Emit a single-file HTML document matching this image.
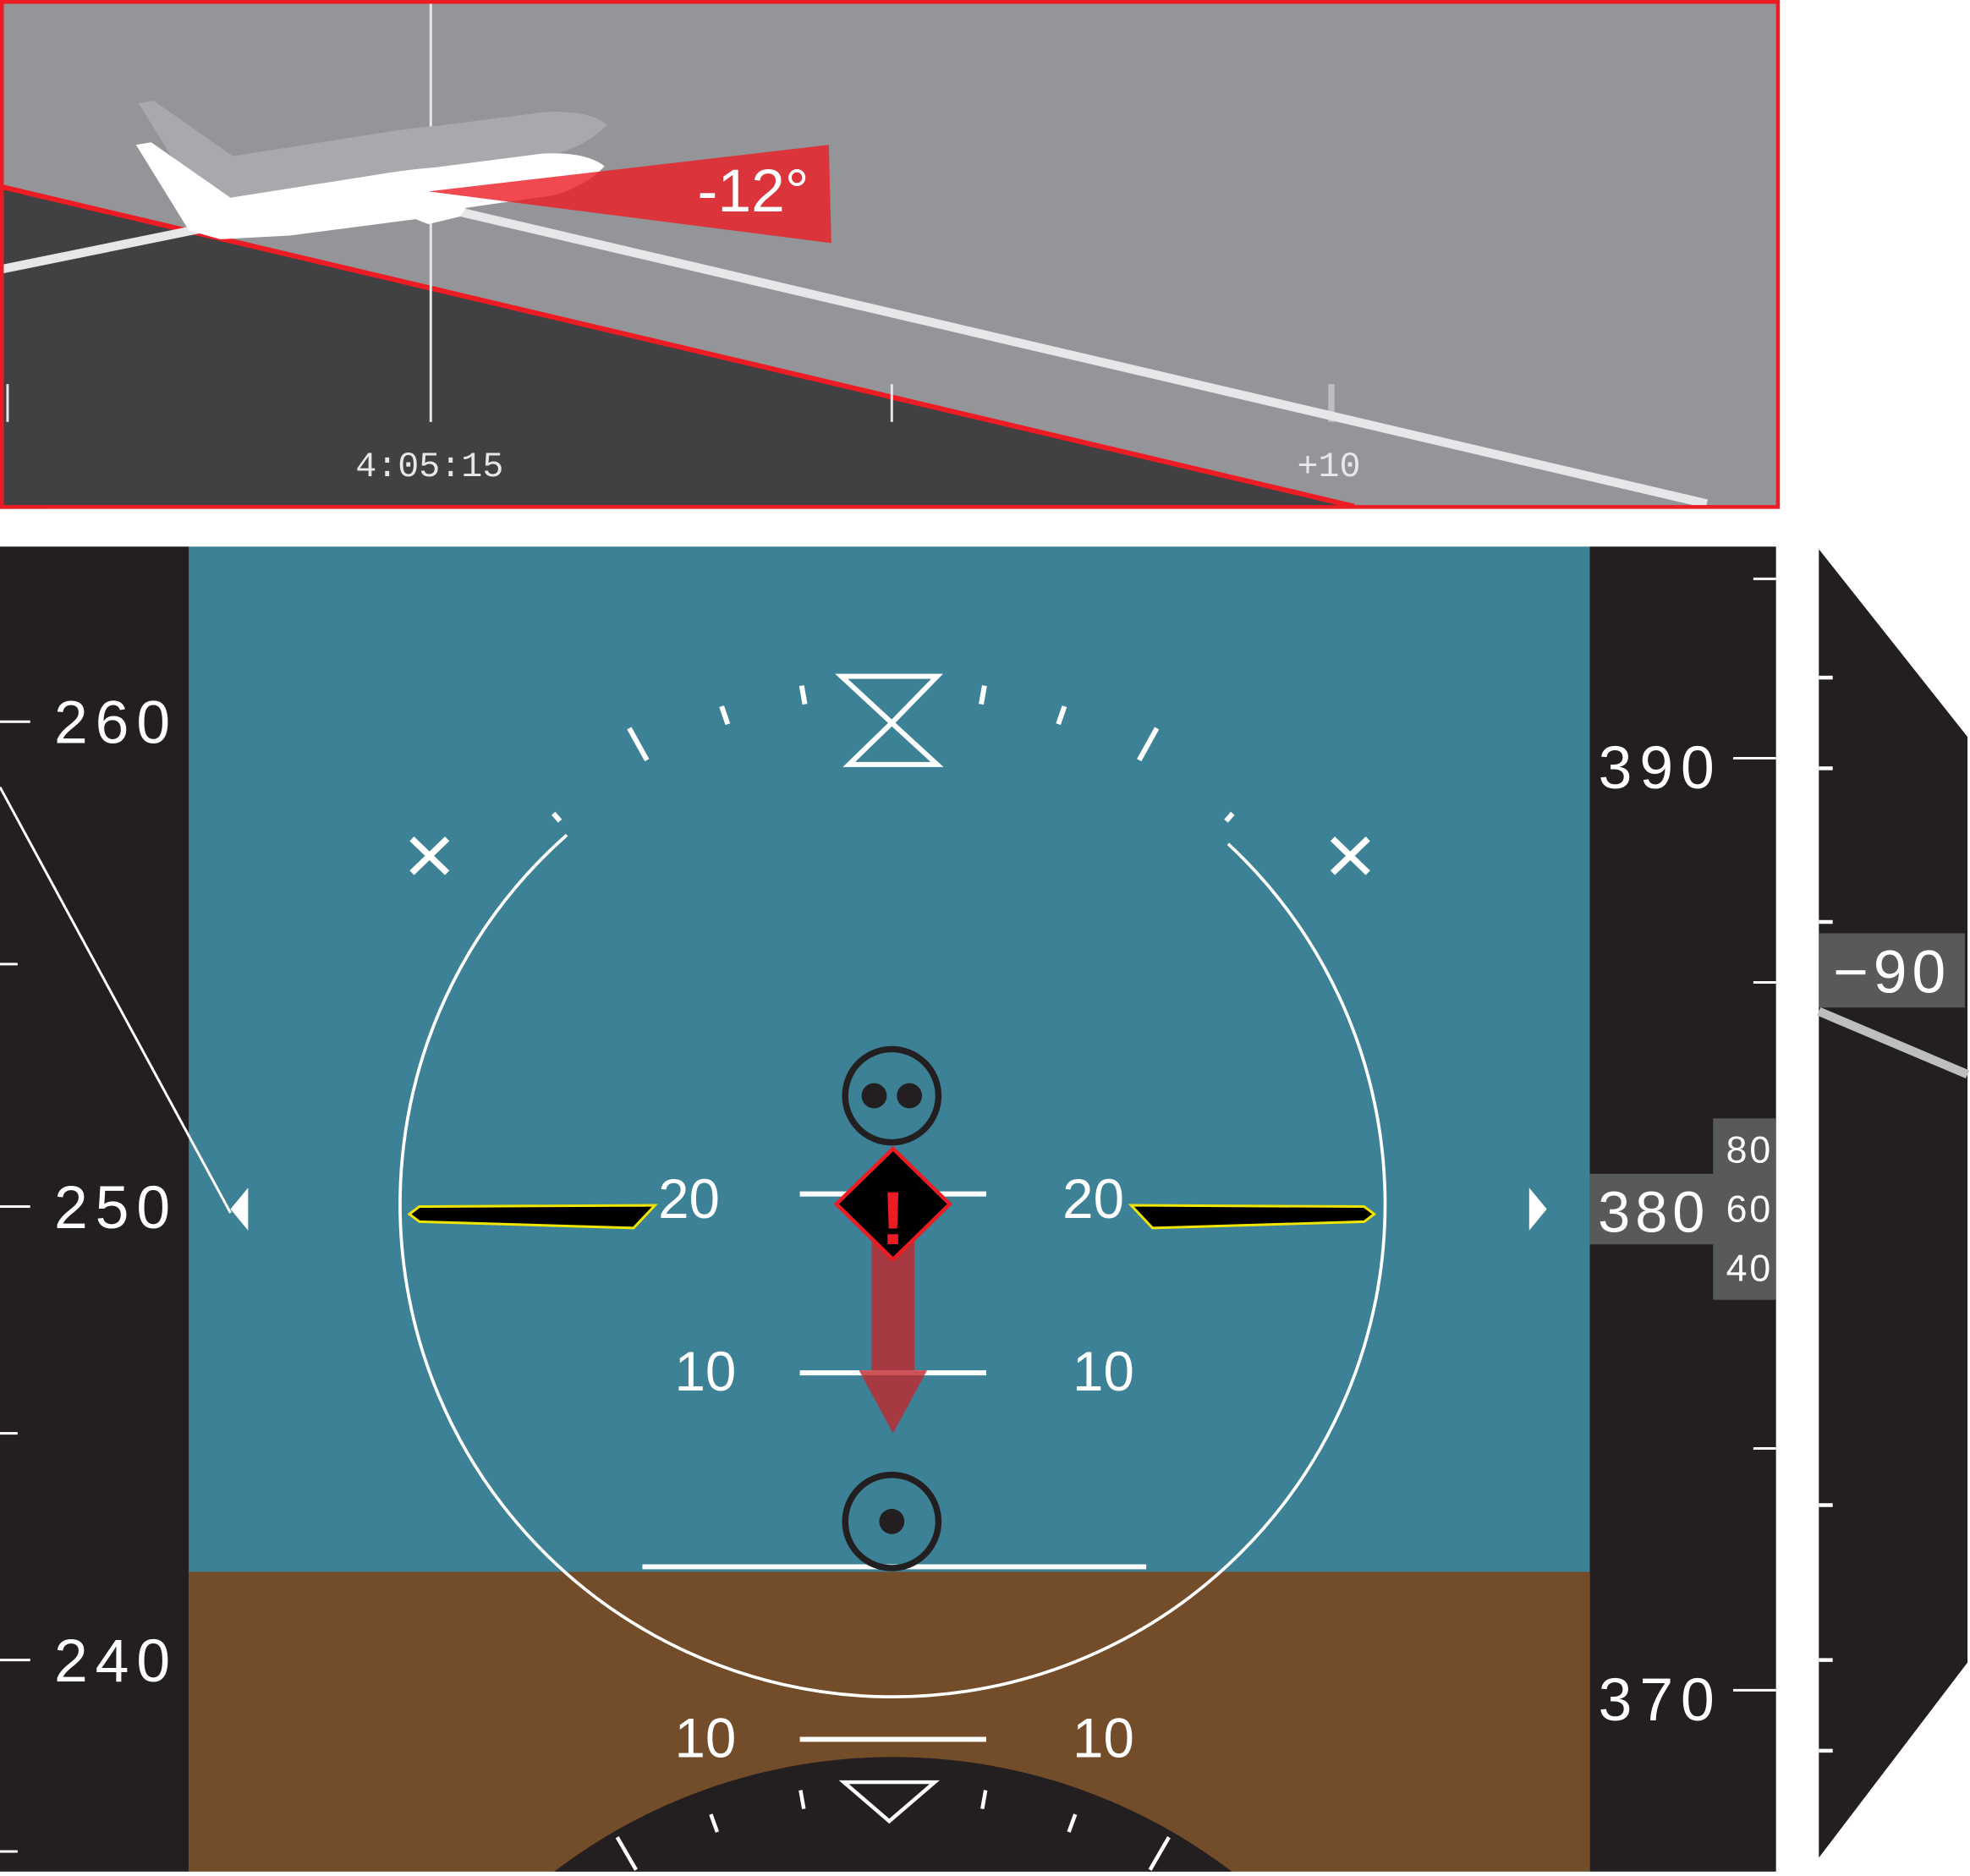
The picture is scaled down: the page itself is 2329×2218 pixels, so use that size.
<!DOCTYPE html>
<html><head><meta charset="utf-8"><style>
html,body{margin:0;padding:0;background:#fff;overflow:hidden;width:2329px;height:2218px;}
svg{display:block;}
text{font-family:"Liberation Sans",sans-serif;}
</style></head><body>
<svg id="pfd" xmlns="http://www.w3.org/2000/svg" width="2329" height="2218" viewBox="0 0 1564 1489.5" preserveAspectRatio="none">
<g>
  <rect x="0" y="0" width="1413" height="404" fill="#939598"/>
  <polygon points="0,148 1075,402 0,404" fill="#414042"/>
  <line x1="0" y1="148" x2="1075" y2="402" stroke="#ed1c24" stroke-width="4"/>
  <line x1="342" y1="0" x2="342" y2="335" stroke="#e6e7e8" stroke-width="2"/>
  <line x1="6" y1="305" x2="6" y2="335" stroke="#e6e7e8" stroke-width="2"/>
  <line x1="708" y1="305" x2="708" y2="335" stroke="#e6e7e8" stroke-width="2"/>
  <line x1="1057" y1="305" x2="1057" y2="335" stroke="#bcbec0" stroke-width="5"/>
  <text x="341" y="378" style="font-family:'Liberation Mono',monospace" font-size="28" fill="#e6e7e8" text-anchor="middle">4:05:15</text>
  <text x="1055" y="378" style="font-family:'Liberation Mono',monospace" font-size="28" fill="#e6e7e8" text-anchor="middle">+10</text>
  <polyline points="0,214 300,153 1355,400" fill="none" stroke="#e6e7e8" stroke-width="7"/>
  <path d="M108,115 L120,113 L183,157 L310,137 Q330,134 345,133 L430,122 Q465,120 480,132 Q465,148 440,155 L370,165 L365,172 L340,178 L330,174 L230,187 L175,190 L150,183 Z" fill="#a7a9ac" transform="translate(2,-33)"/>
  <path d="M108,115 L120,113 L183,157 L310,137 Q330,134 345,133 L430,122 Q465,120 480,132 Q465,148 440,155 L370,165 L365,172 L340,178 L330,174 L230,187 L175,190 L150,183 Z" fill="#fff"/>
  <polygon points="340,152 658,115 660,193" fill="#ed1c24" fill-opacity="0.8"/>
  <text x="598" y="168" font-size="48" fill="#fff" text-anchor="middle">-12°</text>
  <rect x="1.5" y="1.5" width="1410" height="401" fill="none" stroke="#ed1c24" stroke-width="3"/>
</g>

<g>
  <rect x="0" y="434" width="150" height="1052" fill="#231f20"/>
  <g id="speedTicks"></g>
</g>

<g>
  <rect x="150" y="434" width="1112" height="815" fill="#3c8196"/>
  <rect x="150" y="1248" width="1112" height="238" fill="#734c29"/>
  <line x1="0" y1="625" x2="183" y2="963" stroke="#fff" stroke-width="2"/>
  <path d="M450,663 A391,391 0 1 0 975,670" fill="none" stroke="#fff" stroke-width="2.5"/>
  <g id="rollTicks" stroke="#fff" stroke-width="4"></g>
  <path d="M668,537 L744,537 L708,574 Z M708,574 L744,607 L674,607 Z" fill="none" stroke="#fff" stroke-width="4"/>
  <path d="M327,666 L355,693 M355,666 L327,693" stroke="#fff" stroke-width="5"/>
  <path d="M1058,666 L1086,693 M1086,666 L1058,693" stroke="#fff" stroke-width="5"/>
  <g stroke="#fff" stroke-width="4">
    <line x1="635" y1="948" x2="783" y2="948"/>
    <line x1="635" y1="1090" x2="783" y2="1090"/>
    <line x1="635" y1="1381" x2="783" y2="1381"/>
    <line x1="510" y1="1244" x2="910" y2="1244"/>
  </g>
  <g font-size="44" fill="#fff" text-anchor="middle">
    <text x="547" y="967">20</text><text x="868" y="967">20</text>
    <text x="560" y="1104">10</text><text x="876" y="1104">10</text>
    <text x="560" y="1395">10</text><text x="876" y="1395">10</text>
  </g>
  <polygon points="325,964 333,958 520,957 503,975 333,970" fill="#000" stroke="#f2e600" stroke-width="2"/>
  <polygon points="1091,964 1083,958 898,957 915,975 1083,970" fill="#000" stroke="#f2e600" stroke-width="2"/>
  <rect x="692" y="985" width="34" height="103" fill="#c1272d" fill-opacity="0.8"/>
  <polygon points="682,1088 736,1088 709,1138" fill="#c1272d" fill-opacity="0.8"/>
  <polygon points="709,912 754,956 709,1000 664,956" fill="#000" stroke="#ed1c24" stroke-width="3"/>
  <text x="709" y="988" font-size="60" font-weight="bold" fill="#ed1c24" text-anchor="middle">!</text>
  <circle cx="708" cy="870" r="37" fill="none" stroke="#231f20" stroke-width="5"/>
  <circle cx="694" cy="870" r="10" fill="#231f20"/><circle cx="722" cy="870" r="10" fill="#231f20"/>
  <circle cx="708" cy="1208" r="37" fill="none" stroke="#231f20" stroke-width="5"/>
  <circle cx="708" cy="1208" r="10" fill="#231f20"/>
  <polygon points="183,960 197,943 197,977" fill="#fff"/>
  <polygon points="1228,960 1214,943 1214,977" fill="#fff"/>
  <clipPath id="clipHdg"><rect x="150" y="434" width="1112" height="1052"/></clipPath>
  <g clip-path="url(#clipHdg)">
    <circle cx="709" cy="1838" r="443" fill="#231f20"/>
    <g id="hdgTicks" stroke="#fff" stroke-width="3"></g>
    <polygon points="670,1415 742,1415 706,1446" fill="none" stroke="#fff" stroke-width="3"/>
  </g>
</g>

<g>
  <rect x="1262" y="434" width="148" height="1052" fill="#231f20"/>
  <g id="altTicks"></g>
  <rect x="1262" y="932" width="103" height="56" fill="#58595b"/>
  <rect x="1360" y="888" width="50" height="144" fill="#58595b"/>
  <text x="1313" y="978" font-size="46" fill="#fff" text-anchor="middle" letter-spacing="4">380</text>
  <g font-size="30" fill="#fff" text-anchor="middle" letter-spacing="2">
    <text x="1389" y="923">80</text><text x="1389" y="970">60</text><text x="1389" y="1017">40</text>
  </g>
</g>

<g>
  <polygon points="1444,436 1562,585 1562,1320 1444,1475" fill="#231f20"/>
  <g id="vsiTicks" stroke="#fff" stroke-width="3"></g>
  <rect x="1444" y="741" width="116" height="59" fill="#58595b"/>
  <text x="1502" y="788" font-size="48" fill="#fff" text-anchor="middle" letter-spacing="4">−90</text>
  <line x1="1444" y1="803" x2="1562" y2="853" stroke="#bcbec0" stroke-width="7"/>
</g>
</svg>
<script>
const speedLabels = [260, 250, 240];
const speedTickValues = [260, 255, 250, 245, 240, 235];
const altLabels = [390, 370];
const altTickValues = [394, 390, 385, 380, 375, 370];
const rollAngles = [-41, -29, -19, -10, 10, 19, 29, 41];
const hdgAngles = [-30, -20, -10, 10, 20, 30];
const vsiTickYs = [538, 610, 732, 1195, 1318, 1390];
const NS = 'http://www.w3.org/2000/svg';
function mk(tag, attrs, parent){const e=document.createElementNS(NS,tag);for(const k in attrs)e.setAttribute(k,attrs[k]);parent.appendChild(e);return e;}
const ySpeed = v => 958 - (v - 250) * (v > 250 ? 38.5 : 36);
const yAlt = v => 958 - (v - 380) * (v > 380 ? 35.6 : 38.4);
const sT = document.getElementById('speedTicks');
speedTickValues.forEach(v=>{
  const y = Math.min(ySpeed(v), 1470);
  const l = mk('line',{x1:0,y1:y,x2:(v%10===0?24:14),y2:y,stroke:'#fff','stroke-width':2},sT);
  
  
});
speedLabels.forEach(v=>{
  const t = mk('text',{x:92,y:ySpeed(v)+17,'font-size':48,fill:'#fff','text-anchor':'middle','letter-spacing':6},sT);
  t.textContent = v;
  
  
});
const aT = document.getElementById('altTicks');
altTickValues.forEach(v=>{
  const big = v%10===0 && v!==380;
  const l = mk('line',{x1:big?1376:1392,y1:yAlt(v),x2:1410,y2:yAlt(v),stroke:'#fff','stroke-width':2},aT);
  
  
});
altLabels.forEach(v=>{
  const t = mk('text',{x:1318,y:yAlt(v)+24,'font-size':48,fill:'#fff','text-anchor':'middle','letter-spacing':6},aT);
  t.textContent = v;
  
  
});
const rT = document.getElementById('rollTicks');
rollAngles.forEach(a=>{
  const r = a*Math.PI/180, m = Math.abs(a);
  const r1 = 403, r2 = m===29 ? 432 : (m===41 ? 411 : 418);
  const cx=709, cy=956;
  const l = mk('line',{x1:cx+r1*Math.sin(r),y1:cy-r1*Math.cos(r),x2:cx+r2*Math.sin(r),y2:cy-r2*Math.cos(r)},rT);
  
  
});
const hT = document.getElementById('hdgTicks');
hdgAngles.forEach(a=>{
  const r=a*Math.PI/180, cx=709, cy=1838, r1=443-35, r2=443-(Math.abs(a)===30?5:20);
  const l = mk('line',{x1:cx+r1*Math.sin(r),y1:cy-r1*Math.cos(r),x2:cx+r2*Math.sin(r),y2:cy-r2*Math.cos(r)},hT);
  
  
});
const vT = document.getElementById('vsiTicks');
vsiTickYs.forEach(y=>{
  const l = mk('line',{x1:1444,y1:y,x2:1455,y2:y},vT);
  
  
});
</script>
</body></html>
